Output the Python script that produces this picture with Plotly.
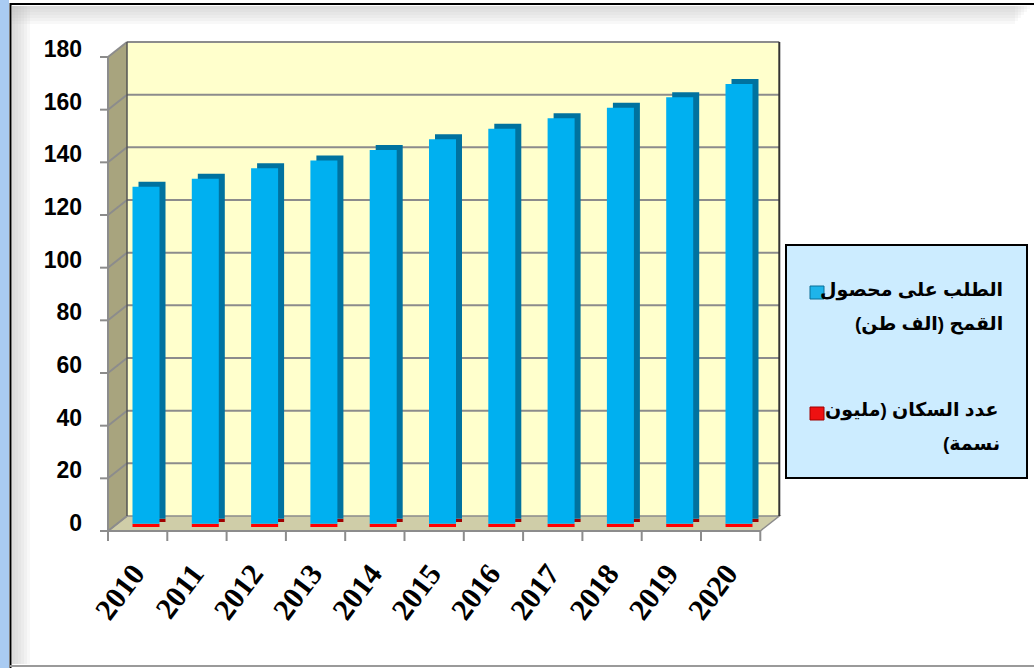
import plotly.graph_objects as go

YEARS = ["2010", "2011", "2012", "2013", "2014", "2015", "2016", "2017", "2018", "2019", "2020"]
WHEAT_DEMAND = [128, 131, 135, 138, 142, 146, 150, 154, 158, 162, 167]   # الف طن
POPULATION = [1.2, 1.2, 1.2, 1.2, 1.2, 1.2, 1.2, 1.2, 1.2, 1.2, 1.2]     # مليون نسمة
Y_TICKS = [0, 20, 40, 60, 80, 100, 120, 140, 160, 180]
NAME_WHEAT_1 = "الطلب على محصول"
NAME_WHEAT_2 = "القمح (الف طن)"
NAME_POP_1 = "عدد السكان (مليون"
NAME_POP_2 = "نسمة)"

W, H = 1034, 668
L_PX, R_PX = 108, 769
TOP_PX, BOT_PX = 53, 527
K = (BOT_PX - TOP_PX) / 180.0
X0_PX, DX_PX = 146, 59.3
DEPTH_X, DEPTH_Y = 19, 15
FRONT_DY = 4

def fx(px):
    return (px - L_PX) / (R_PX - L_PX)

def fy(py):
    return (BOT_PX - py) / (BOT_PX - TOP_PX)

def front_y(v):
    return BOT_PX + FRONT_DY - v * K

def back_y(v):
    return front_y(v) - DEPTH_Y

FRONT_L = 108
FRONT_R = FRONT_L + DX_PX * len(YEARS)
BACK_L, BACK_R = FRONT_L + DEPTH_X, FRONT_R + DEPTH_X

GRID = "#8C8C8C"
shapes = []

def path(pts):
    return "M " + " L ".join(f"{fx(a):.5f},{fy(b):.5f}" for a, b in pts) + " Z"

def pline(x0, y0, x1, y1, color, width, layer="below"):
    shapes.append(dict(type="line", xref="paper", yref="paper", layer=layer,
                       x0=fx(x0), x1=fx(x1), y0=fy(y0), y1=fy(y1),
                       line=dict(color=color, width=width)))

def prect(x0, y0, x1, y1, fill, lcolor=None, lwidth=0, layer="below"):
    shapes.append(dict(type="rect", xref="paper", yref="paper", layer=layer,
                       x0=fx(x0), x1=fx(x1), y0=fy(y1), y1=fy(y0),
                       fillcolor=fill,
                       line=dict(color=lcolor or "rgba(0,0,0,0)", width=lwidth)))

# outer frame with soft bevel
prect(0, 0, 9, H, "#A9CBF2")
for k in range(6):
    a = 0.10
    prect(12, 6, 1030 - k * 3, 9 + k * 3, f"rgba(190,190,190,{a})")
    prect(12, 6, 15 + k * 3, 664, f"rgba(190,190,190,{a})")
pline(10.5, 3, 10.5, H, "#000000", 2)
pline(10, 4, 1034, 4, "#000000", 2)
pline(10, 666, 1034, 666, "#9A9A9A", 2)

# back wall
prect(BACK_L, back_y(180), BACK_R, back_y(0), "#FFFFCC")
# side wall
shapes.append(dict(type="path", xref="paper", yref="paper", layer="below",
                   path=path([(FRONT_L, front_y(180)), (BACK_L, back_y(180)),
                              (BACK_L, back_y(0)), (FRONT_L, front_y(0))]),
                   fillcolor="#A8A47E", line=dict(width=0)))
# floor
shapes.append(dict(type="path", xref="paper", yref="paper", layer="below",
                   path=path([(FRONT_L, front_y(0)), (BACK_L, back_y(0)),
                              (BACK_R, back_y(0)), (FRONT_R, front_y(0))]),
                   fillcolor="#CFCDA8", line=dict(color=GRID, width=1.5)))
# gridlines on back wall + diagonals on side wall + y ticks
for v in Y_TICKS:
    if v > 0:
        pline(BACK_L, back_y(v), BACK_R, back_y(v), GRID, 2)
    pline(FRONT_L, front_y(v), BACK_L, back_y(v), GRID, 2)
    pline(FRONT_L - 8, front_y(v), FRONT_L, front_y(v), GRID, 2)
pline(BACK_R, back_y(0), BACK_R, back_y(180), "#333333", 2)
pline(BACK_L, back_y(0), BACK_L, back_y(180), "#555555", 1.5)
pline(FRONT_L, front_y(0), FRONT_L, front_y(180), GRID, 2)
pline(FRONT_L, front_y(0), FRONT_R, front_y(0), GRID, 2)
for j in range(len(YEARS) + 1):
    xb = FRONT_L + j * DX_PX
    pline(xb, front_y(0), xb, front_y(0) + 10, GRID, 2)

# legend box
prect(786, 245, 1027, 478, "#CCECFF", "#000000", 2, layer="above")
prect(810, 286, 824, 299, "#1EB4EA", "#0A6E96", 1, layer="above")
prect(810, 407, 824, 420, "#EE1111", "#A00000", 1, layer="above")

BAR_W = 27 / DX_PX
SIDE_DX = 6 / DX_PX
SIDE_DV = 5 / K

fig = go.Figure()
fig.add_trace(go.Bar(x=YEARS, y=POPULATION, base=[SIDE_DV] * len(YEARS),
                     width=BAR_W, offset=-BAR_W / 2 + SIDE_DX,
                     marker=dict(color="#A00000", line=dict(width=0)),
                     showlegend=False, hoverinfo="skip"))
fig.add_trace(go.Bar(x=YEARS, y=WHEAT_DEMAND, base=[p + SIDE_DV for p in POPULATION],
                     width=BAR_W, offset=-BAR_W / 2 + SIDE_DX,
                     marker=dict(color="#00729F", line=dict(width=0)),
                     showlegend=False, hoverinfo="skip"))
fig.add_trace(go.Bar(x=YEARS, y=POPULATION, base=[0] * len(YEARS),
                     width=BAR_W, offset=-BAR_W / 2,
                     marker=dict(color="#FF0000", line=dict(width=0)),
                     name=NAME_POP_1 + " " + NAME_POP_2, showlegend=False))
fig.add_trace(go.Bar(x=YEARS, y=WHEAT_DEMAND, base=POPULATION,
                     width=BAR_W, offset=-BAR_W / 2,
                     marker=dict(color="#00B0F0", line=dict(width=0)),
                     name=NAME_WHEAT_1 + " " + NAME_WHEAT_2, showlegend=False))

RLM = "\u200f"
AR_FONT = dict(family="Liberation Sans, DejaVu Sans, Arial", size=19, color="#000000", weight="bold")
annotations = []
for txt, xr, yc in [(NAME_WHEAT_1, 1005, 290), (NAME_WHEAT_2, 1005, 324),
                    (NAME_POP_1, 1000, 410), (NAME_POP_2, 1002, 443)]:
    annotations.append(dict(text=RLM + txt + RLM, xref="paper", yref="paper", x=fx(xr), y=fy(yc),
                            xanchor="right", yanchor="middle", showarrow=False, font=AR_FONT))

fig.update_layout(
    width=W, height=H,
    margin=dict(l=L_PX, r=W - R_PX, t=TOP_PX, b=H - BOT_PX, pad=0),
    paper_bgcolor="#FFFFFF", plot_bgcolor="rgba(0,0,0,0)",
    barmode="overlay", showlegend=False,
    shapes=shapes, annotations=annotations,
    xaxis=dict(type="category", range=[(L_PX - X0_PX) / DX_PX, (R_PX - X0_PX) / DX_PX],
               showgrid=False, showline=False, zeroline=False, ticks="",
               tickangle=-53, ticklabelstandoff=22, ticklabelshift=-12,
               tickfont=dict(family="Liberation Serif, Times New Roman, serif", size=30,
                             color="#000000", weight="bold")),
    yaxis=dict(range=[0, 180], tickvals=Y_TICKS, showgrid=False, showline=False,
               zeroline=False, ticks="", ticklabelshift=-FRONT_DY, ticklabelstandoff=25,
               tickfont=dict(family="Liberation Sans, Arial", size=23, color="#000000",
                             weight="bold")),
)

fig.write_html("out.html", config={"displayModeBar": False},
               post_script="document.body.style.margin='0';document.body.style.overflow='hidden';")
